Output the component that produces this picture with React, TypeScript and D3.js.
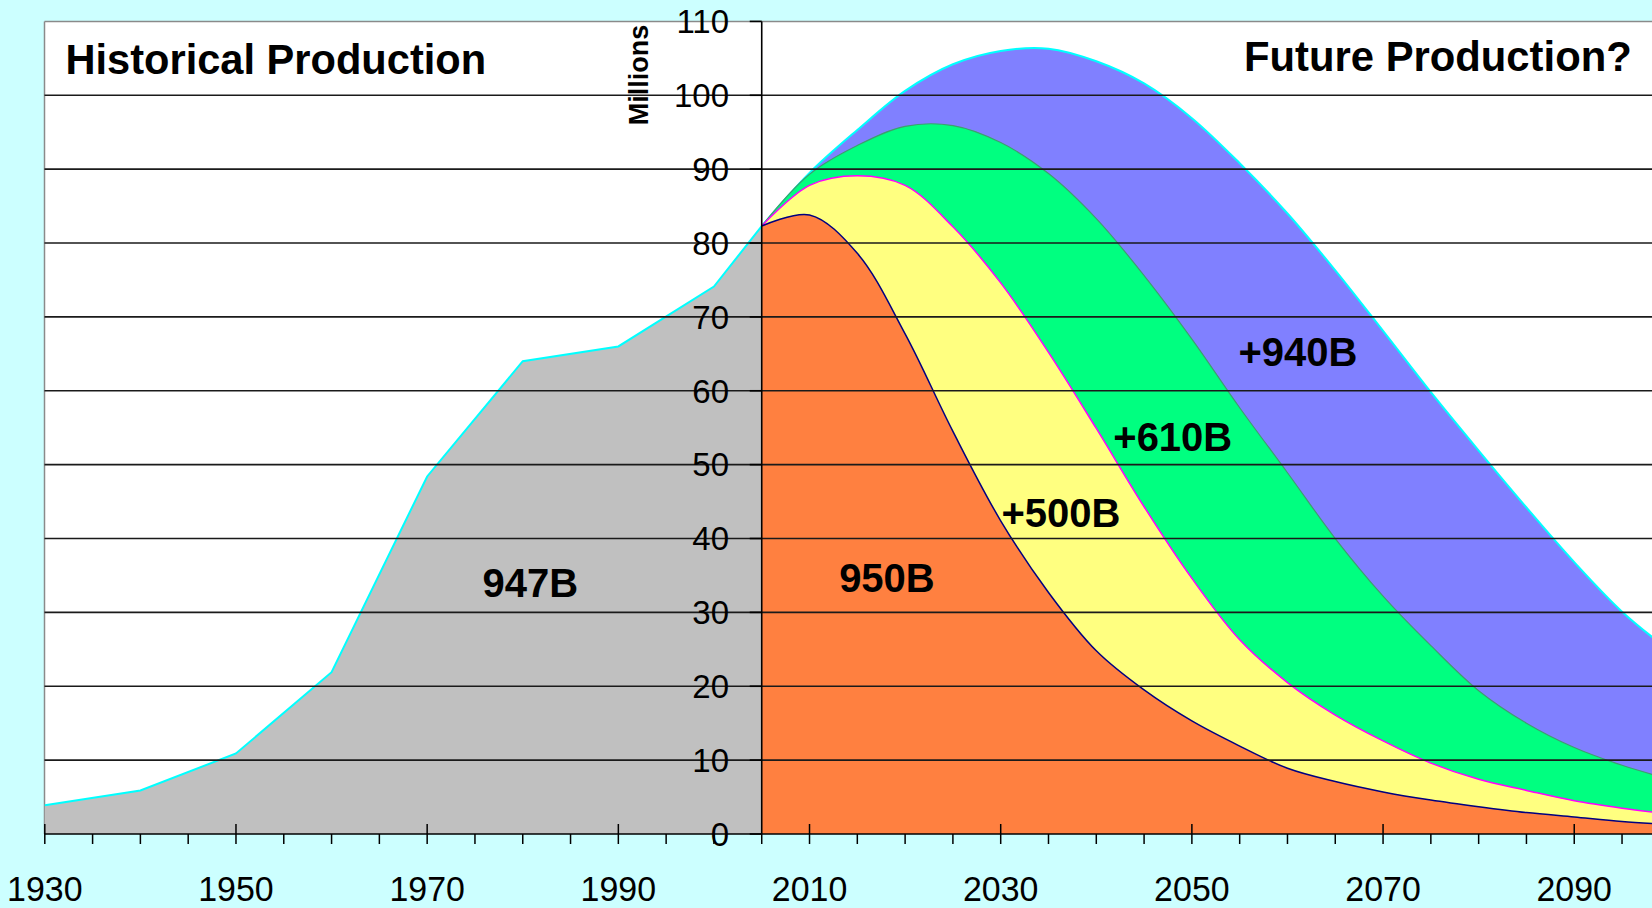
import React from "react";
import * as d3 from "d3";

// ---- data ----
const histYears = [1930, 1940, 1950, 1960, 1970, 1980, 1990, 2000, 2005];
const histValues = [3.9, 5.9, 10.9, 21.9, 48.4, 64.0, 66.0, 74.1, 82.3];

const futureYears = [2005, 2010, 2015, 2020, 2025, 2030, 2035, 2040, 2045, 2050, 2055, 2060, 2065, 2070, 2075, 2080, 2085, 2090, 2095, 2100];
const plus940 = [82.3, 89.5, 95.3, 100.6, 104.2, 106.0, 106.3, 104.6, 101.6, 96.9, 90.8, 84.0, 76.3, 68.1, 59.8, 51.9, 44.2, 36.8, 30.1, 24.8];
const plus610 = [82.3, 89.3, 93.2, 95.8, 95.9, 93.6, 89.4, 83.3, 75.6, 67.0, 57.7, 48.9, 40.0, 32.2, 25.5, 19.4, 15.0, 11.7, 9.3, 7.4];
const plus500 = [82.3, 87.8, 89.1, 87.8, 82.2, 74.6, 65.2, 54.9, 44.3, 34.6, 26.3, 20.5, 16.1, 12.6, 9.6, 7.4, 5.9, 4.5, 3.5, 2.7];
const base950 = [82.3, 83.8, 78.6, 67.7, 54.5, 42.4, 32.7, 24.8, 19.5, 15.3, 11.9, 8.9, 7.1, 5.7, 4.6, 3.7, 2.9, 2.3, 1.7, 1.3];

const xTickLabels = [1930, 1950, 1970, 1990, 2010, 2030, 2050, 2070, 2090];
const yTickValues = [0, 10, 20, 30, 40, 50, 60, 70, 80, 90, 100, 110];

const seriesLabels = [
  { text: "947B", year: 1980.8, value: 32.1 },
  { text: "950B", year: 2018.1, value: 32.7 },
  { text: "+500B", year: 2036.3, value: 41.5 },
  { text: "+610B", year: 2048.0, value: 51.8 },
  { text: "+940B", year: 2061.1, value: 63.3 },
];

const W = 1652;
const H = 908;
const FONT = "'Liberation Sans', Arial, Helvetica, sans-serif";

export default function App() {
  const x = d3.scaleLinear().domain([1930, 2100]).range([44.8, 44.8 + 170 * 9.559]);
  const y = d3.scaleLinear().domain([0, 110]).range([834, 21.4]);
  const plotLeft = 44.5;
  const plotTop = y(110);
  const axisX = x(2005);
  const axisY = y(0);

  const histPts = histYears.map((yr, i) => [yr, histValues[i]] as [number, number]);
  const areaLin = d3.area<[number, number]>().x(d => x(d[0])).y0(axisY).y1(d => y(d[1]));
  const lineLin = d3.line<[number, number]>().x(d => x(d[0])).y(d => y(d[1]));
  const curve = d3.curveCatmullRom.alpha(0.5);
  const areaCurve = d3.area<[number, number]>().x(d => x(d[0])).y0(axisY).y1(d => y(d[1])).curve(curve);
  const lineCurve = d3.line<[number, number]>().x(d => x(d[0])).y(d => y(d[1])).curve(curve);

  const future = [
    { vals: plus940, fill: "#8080FF", stroke: "#00FFFF", sw: 2 },
    { vals: plus610, fill: "#00FF80", stroke: "#3E9E6E", sw: 1.2 },
    { vals: plus500, fill: "#FFFF80", stroke: "#FF00FF", sw: 1.5 },
    { vals: base950, fill: "#FF8040", stroke: "#000080", sw: 1.5 },
  ];

  const minorTicks = d3.range(1930, 2101, 5);

  return (
    <svg width={W} height={H} style={{ position: "absolute", left: 0, top: 0, display: "block" }} fontFamily={FONT}>
      <rect x={0} y={0} width={W} height={H} fill="#CCFFFF" />
      {/* plot area */}
      <rect x={plotLeft} y={plotTop} width={W - plotLeft + 10} height={axisY - plotTop} fill="#FFFFFF" />
      <line x1={plotLeft} x2={W} y1={plotTop} y2={plotTop} stroke="#8A8A8A" strokeWidth={1.5} />
      <line x1={plotLeft} x2={plotLeft} y1={plotTop} y2={axisY} stroke="#8A8A8A" strokeWidth={1.5} />

      {/* historical */}
      <path d={areaLin(histPts) || ""} fill="#C0C0C0" />
      <path d={lineLin(histPts) || ""} fill="none" stroke="#00FFFF" strokeWidth={2} />

      {/* future scenarios */}
      {future.map((s, i) => {
        const pts = futureYears.map((yr, j) => [yr, s.vals[j]] as [number, number]);
        return (
          <g key={i}>
            <path d={areaCurve(pts) || ""} fill={s.fill} />
            <path d={lineCurve(pts) || ""} fill="none" stroke={s.stroke} strokeWidth={s.sw} />
          </g>
        );
      })}

      {/* gridlines */}
      {yTickValues.filter(v => v > 0 && v < 110).map(v => (
        <line key={v} x1={plotLeft} x2={W} y1={y(v)} y2={y(v)} stroke="#1A1A1A" strokeWidth={1.6} />
      ))}

      {/* y axis */}
      <line x1={axisX} x2={axisX} y1={plotTop} y2={axisY} stroke="#000" strokeWidth={1.6} />
      {yTickValues.map(v => (
        <g key={v}>
          <line x1={axisX - 12} x2={axisX} y1={y(v)} y2={y(v)} stroke="#000" strokeWidth={1.6} />
          <text x={729} y={y(v) + 11.8} fontSize={33} textAnchor="end" fill="#000">{v}</text>
        </g>
      ))}
      <text transform={`translate(${647.5},${75}) rotate(-90)`} fontSize={27} fontWeight="bold" textAnchor="middle" fill="#000">Millions</text>

      {/* x axis */}
      <line x1={plotLeft} x2={W} y1={axisY} y2={axisY} stroke="#000" strokeWidth={1.6} />
      {minorTicks.map(t => (
        <line key={t} x1={x(t)} x2={x(t)} y1={(t - 1930) % 20 === 0 ? axisY - 10 : axisY} y2={axisY + 10} stroke="#000" strokeWidth={1.5} />
      ))}
      {xTickLabels.map(t => (
        <text key={t} transform={`translate(${x(t)},901) scale(0.97,1)`} fontSize={35} textAnchor="middle" fill="#000">{t}</text>
      ))}

      {/* headings */}
      <text x={65.5} y={74} fontSize={41.6} fontWeight="bold" fill="#000">Historical Production</text>
      <text x={1244} y={70.5} fontSize={41.8} fontWeight="bold" fill="#000">Future Production?</text>

      {/* series labels */}
      {seriesLabels.map(l => (
        <text key={l.text} x={x(l.year)} y={y(l.value)} fontSize={40} fontWeight="bold" textAnchor="middle" fill="#000">{l.text}</text>
      ))}
    </svg>
  );
}
